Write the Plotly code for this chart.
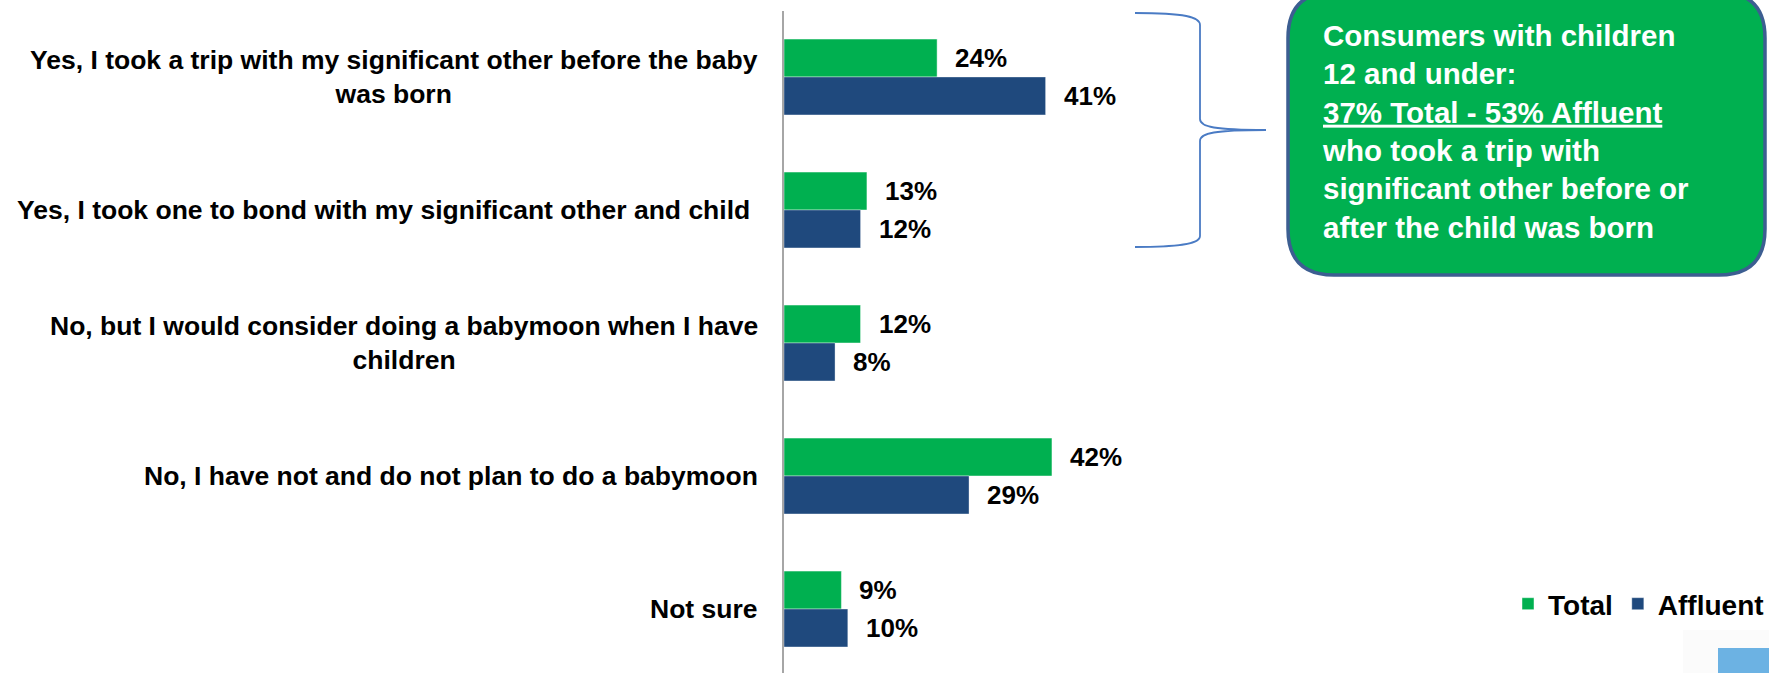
import plotly.graph_objects as go

# Survey answers (top to bottom) and the share of each group choosing them
categories = [
    "Yes, I took a trip with my significant other before the baby<br>was born",
    "Yes, I took one to bond with my significant other and child\u00a0",
    "No, but I would consider doing a babymoon when I have<br>children",
    "No, I have not and do not plan to do a babymoon",
    "Not sure",
]
total_pct = [24, 13, 12, 42, 9]
affluent_pct = [41, 12, 8, 29, 10]
series_names = ["Total", "Affluent"]

callout_lines = [
    "Consumers with children",
    "12 and under:",
    "<u>37% Total - 53% Affluent</u>",
    "who took a trip with",
    "significant other before or",
    "after the child was born",
]

W, H = 1769, 673
GREEN = "#00B050"
NAVY = "#1F497D"
FONT = "Liberation Sans, Arial, sans-serif"


def px(x):
    return x / W


def py(y):
    return 1 - y / H


fig = go.Figure()
fig.add_trace(go.Bar(
    y=categories, x=total_pct, orientation="h", name=series_names[0],
    marker=dict(color=GREEN, line=dict(color="rgba(255,255,255,0.45)", width=1)),
    hoverinfo="skip",
))
fig.add_trace(go.Bar(
    y=categories, x=affluent_pct, orientation="h", name=series_names[1],
    marker=dict(color=NAVY, line=dict(color="rgba(255,255,255,0.35)", width=1)),
    hoverinfo="skip",
))

annotations = []
# Category labels to the left of the axis
for cat in categories:
    annotations.append(dict(
        x=px(760), xref="paper", y=cat, yref="y",
        xanchor="right", yanchor="middle", align="center",
        text=f"<b>{cat}</b>", showarrow=False,
        font=dict(family=FONT, size=26.5, color="#000000"),
    ))

# Value labels just past the end of each bar
for vals, shift in ((total_pct, 19), (affluent_pct, -19)):
    for cat, v in zip(categories, vals):
        annotations.append(dict(
            x=v, xref="x", y=cat, yref="y", yshift=shift, xshift=16,
            xanchor="left", yanchor="middle",
            text=f"<b>{v}%</b>", showarrow=False,
            font=dict(family=FONT, size=26, color="#000000"),
        ))

# Callout text inside the green box
annotations.append(dict(
    x=px(1320), xref="paper", y=py(132), yref="paper",
    xanchor="left", yanchor="middle", align="left",
    text="<b>" + "<br>".join(callout_lines) + "</b>", showarrow=False,
    font=dict(family=FONT, size=29.5, color="#FFFFFF"),
))

# Curly brace grouping the two "Yes" answers
brace = (
    f"M {px(1135)},{py(13)} C {px(1185)},{py(13)} {px(1200)},{py(17)} {px(1200)},{py(25)} "
    f"L {px(1200)},{py(119)} C {px(1200)},{py(127)} {px(1215)},{py(130)} {px(1266)},{py(130)} "
    f"C {px(1215)},{py(130)} {px(1200)},{py(133)} {px(1200)},{py(141)} "
    f"L {px(1200)},{py(236)} C {px(1200)},{py(243)} {px(1185)},{py(247)} {px(1135)},{py(247)}"
)

# Rounded callout box (top edge runs off the page)
x0, x1, y0, y1, r = 1288, 1765, -8, 275, 46
box = (
    f"M {px(x0 + r)},{py(y0)} L {px(x1 - r)},{py(y0)} "
    f"Q {px(x1)},{py(y0)} {px(x1)},{py(y0 + r)} "
    f"L {px(x1)},{py(y1 - r)} Q {px(x1)},{py(y1)} {px(x1 - r)},{py(y1)} "
    f"L {px(x0 + r)},{py(y1)} Q {px(x0)},{py(y1)} {px(x0)},{py(y1 - r)} "
    f"L {px(x0)},{py(y0 + r)} Q {px(x0)},{py(y0)} {px(x0 + r)},{py(y0)} Z"
)

shapes = [
    dict(type="path", path=brace, xref="paper", yref="paper",
         line=dict(color="#4A7BC4", width=1.8), layer="above"),
    dict(type="path", path=box, xref="paper", yref="paper",
         fillcolor=GREEN, line=dict(color="#3C5E91", width=3.5), layer="below"),
    # corner logo fragment at the bottom right
    dict(type="rect", xref="paper", yref="paper",
         x0=px(1683), x1=1, y0=0, y1=py(630),
         fillcolor="#FBFBFB", line=dict(width=0), layer="below"),
    dict(type="rect", xref="paper", yref="paper",
         x0=px(1718), x1=1, y0=0, y1=py(648),
         fillcolor="#6CB2E3", line=dict(width=0), layer="below"),
]

fig.update_layout(
    width=W, height=H,
    margin=dict(l=0, r=0, t=0, b=0, autoexpand=False),
    paper_bgcolor="#FFFFFF", plot_bgcolor="rgba(0,0,0,0)",
    barmode="group", bargap=0.43, bargroupgap=0,
    font=dict(family=FONT, color="#000000"),
    showlegend=True,
    legend=dict(
        orientation="h", traceorder="normal",
        x=1.0, xanchor="right", y=py(604), yanchor="middle",
        font=dict(family=FONT, size=28, color="#000000", weight="bold"),
        bgcolor="rgba(0,0,0,0)", itemwidth=30, tracegroupgap=0,
    ),
    xaxis=dict(
        domain=[px(784), 1], range=[0, (W - 784) / 6.38],
        showgrid=False, zeroline=False, showline=False,
        showticklabels=False, ticks="", fixedrange=True,
    ),
    yaxis=dict(
        domain=[0, py(11)], range=[4.481, -0.496],
        showgrid=False, zeroline=False, showline=True,
        linecolor="#A6A6A6", linewidth=2,
        showticklabels=False, ticks="", fixedrange=True,
    ),
    annotations=annotations,
    shapes=shapes,
)

fig.write_html("out.html", config={"displayModeBar": False})
